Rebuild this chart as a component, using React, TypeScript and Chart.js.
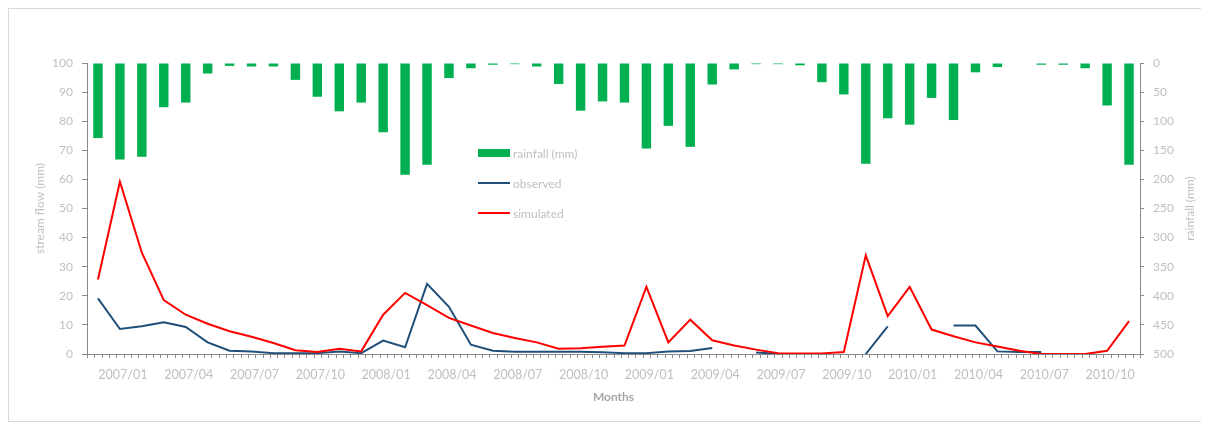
import React, { useEffect, useRef } from "react";
import { Chart, registerables } from "chart.js";

Chart.register(...registerables);

const months = [
  "2006/12",
  "2007/01", "2007/02", "2007/03", "2007/04", "2007/05", "2007/06", "2007/07", "2007/08", "2007/09", "2007/10", "2007/11", "2007/12",
  "2008/01", "2008/02", "2008/03", "2008/04", "2008/05", "2008/06", "2008/07", "2008/08", "2008/09", "2008/10", "2008/11", "2008/12",
  "2009/01", "2009/02", "2009/03", "2009/04", "2009/05", "2009/06", "2009/07", "2009/08", "2009/09", "2009/10", "2009/11", "2009/12",
  "2010/01", "2010/02", "2010/03", "2010/04", "2010/05", "2010/06", "2010/07", "2010/08", "2010/09", "2010/10", "2010/11",
];

const rainfall = [
  129, 166, 161, 76, 68, 18, 5, 6, 6, 29, 58, 83, 68,
  119, 192, 175, 26, 9, 3, 2, 6, 36, 82, 66, 68,
  147, 108, 144, 37, 11, 2, 2, 4, 33, 54, 173, 95,
  106, 60, 98, 16, 7, 0, 3, 3, 9, 73, 175,
];

const simulated = [
  25.6, 59.2, 34.8, 18.5, 13.5, 10.4, 7.8, 5.9, 3.8, 1.3, 0.7, 1.8, 0.9,
  13.5, 21.0, 16.8, 12.4, 9.8, 7.2, 5.5, 4.0, 1.8, 2.0, 2.5, 2.9,
  23.1, 4.0, 11.8, 4.7, 2.9, 1.5, 0.3, 0.2, 0.2, 0.7, 33.9, 13.0,
  23.1, 8.4, 6.1, 4.0, 2.6, 1.1, 0, 0, 0, 1.1, 11.3,
];

const observed = [
  19.1, 8.6, 9.5, 10.9, 9.3, 4.0, 1.1, 0.9, 0.3, 0.3, 0.3, 0.9, 0.3,
  4.6, 2.3, 24.1, 16.2, 3.2, 1.1, 0.8, 0.8, 0.8, 0.8, 0.6, 0.3,
  0.3, 0.9, 1.0, 2.1, null, 0.5, 0.1, null, null, null, 0, 9.5,
  null, null, 9.8, 9.8, 0.9, 0.7, 0.7, null, null, null, null,
];

const FONT = "Lato, 'Open Sans', sans-serif";
const TEXT = "#BFBFBF";
const AXIS = "#8A8A8A";

const minorTicks = {
  id: "minorTicks",
  afterDraw(chart: any) {
    const { ctx, chartArea } = chart;
    const n = months.length * 3;
    const w = (chartArea.right - chartArea.left) / n;
    ctx.save();
    ctx.strokeStyle = AXIS;
    ctx.lineWidth = 1;
    ctx.beginPath();
    for (let i = 0; i <= n; i++) {
      const x = Math.round(chartArea.left + i * w) + 0.5;
      ctx.moveTo(x, chartArea.bottom);
      ctx.lineTo(x, chartArea.bottom + 4);
    }
    ctx.stroke();
    // right axis title, rotated to read bottom-to-top
    ctx.translate(chartArea.right + 50, (chartArea.top + chartArea.bottom) / 2);
    ctx.rotate(-Math.PI / 2);
    ctx.font = `12px ${FONT}`;
    ctx.fillStyle = TEXT;
    ctx.textAlign = "center";
    ctx.textBaseline = "middle";
    ctx.fillText("rainfall (mm)", 0, 0);
    ctx.restore();
  },
};

export default function App() {
  const ref = useRef<HTMLCanvasElement | null>(null);

  useEffect(() => {
    if (!ref.current) return;
    const chart = new Chart(ref.current, {
      type: "bar",
      data: {
        labels: months,
        datasets: [
          {
            type: "bar",
            label: "rainfall (mm)",
            data: rainfall,
            yAxisID: "y2",
            backgroundColor: "#00B050",
            borderWidth: 0,
            barPercentage: 0.43,
            categoryPercentage: 1,
            order: 3,
          } as any,
          {
            type: "line",
            label: "observed",
            data: observed,
            yAxisID: "y",
            borderColor: "#1F4E79",
            backgroundColor: "#1F4E79",
            borderWidth: 2,
            pointRadius: 0,
            spanGaps: false,
            tension: 0,
            order: 2,
          } as any,
          {
            type: "line",
            label: "simulated",
            data: simulated,
            yAxisID: "y",
            borderColor: "#FF0000",
            backgroundColor: "#FF0000",
            borderWidth: 2,
            pointRadius: 0,
            tension: 0,
            order: 1,
          } as any,
        ],
      },
      options: {
        responsive: false,
        animation: false,
        layout: { padding: { top: 54, left: 0, right: 0, bottom: 0 } },
        plugins: {
          legend: { display: false },
          tooltip: { enabled: false },
        },
        scales: {
          x: {
            type: "category",
            offset: true,
            grid: {
              display: true,
              drawOnChartArea: false,
              drawTicks: true,
              tickLength: 4,
              color: "rgba(0,0,0,0)",
            },
            border: { display: true, color: AXIS, width: 1 },
            ticks: {
              autoSkip: false,
              maxRotation: 0,
              minRotation: 0,
              padding: 9,
              labelOffset: 3,
              color: TEXT,
              font: { family: FONT, size: 12.5 },
              callback: (_v: any, i: number) => (i % 3 === 1 ? months[i] : ""),
            },
            title: {
              display: true,
              text: "Months",
              color: "#A6A6A6",
              font: { family: FONT, size: 12, weight: "bold" },
              padding: { top: 0, bottom: 15 },
            },
            afterFit: (s: any) => {
              s.height = 65;
            },
          },
          y: {
            position: "left",
            min: 0,
            max: 100,
            ticks: {
              stepSize: 10,
              padding: 9,
              color: TEXT,
              font: { family: FONT, size: 12 },
            },
            grid: {
              drawOnChartArea: false,
              drawTicks: true,
              tickLength: 5,
              color: AXIS,
            },
            border: { display: true, color: AXIS, width: 1 },
            title: {
              display: true,
              text: "stream flow (mm)",
              color: TEXT,
              font: { family: FONT, size: 12 },
              padding: { top: 24, bottom: 0 },
            },
            afterFit: (s: any) => {
              s.width = 78;
            },
          },
          y2: {
            position: "right",
            reverse: true,
            min: 0,
            max: 500,
            ticks: {
              stepSize: 50,
              padding: 9,
              color: TEXT,
              font: { family: FONT, size: 12 },
            },
            grid: {
              drawOnChartArea: false,
              drawTicks: true,
              tickLength: 4,
              color: AXIS,
            },
            border: { display: true, color: AXIS, width: 1 },
            afterFit: (s: any) => {
              s.width = 68;
            },
          },
        },
      } as any,
      plugins: [minorTicks],
    });
    return () => chart.destroy();
  }, []);

  const row = (top: number): React.CSSProperties => ({
    position: "absolute",
    left: 469,
    top: top - 8,
    height: 16,
    display: "flex",
    alignItems: "center",
    fontFamily: FONT,
    fontSize: 12,
    color: TEXT,
    whiteSpace: "nowrap",
  });

  return (
    <div
      style={{
        position: "relative",
        width: 1199,
        height: 412,
        borderTop: "1px solid #D9D9D9",
        borderLeft: "1px solid #D9D9D9",
        borderBottom: "1px solid #D9D9D9",
        background: "#fff",
        overflow: "hidden",
      }}
    >
      <canvas ref={ref} width={1199} height={410} style={{ display: "block", width: 1199, height: 410 }} />
      <div style={row(144)}>
        <span style={{ display: "inline-block", width: 32, height: 8, background: "#00B050", marginRight: 3 }} />
        rainfall (mm)
      </div>
      <div style={row(174)}>
        <span style={{ display: "inline-block", width: 32, height: 2, background: "#1F4E79", marginRight: 3 }} />
        observed
      </div>
      <div style={row(204)}>
        <span style={{ display: "inline-block", width: 32, height: 2, background: "#FF0000", marginRight: 3 }} />
        simulated
      </div>
    </div>
  );
}
